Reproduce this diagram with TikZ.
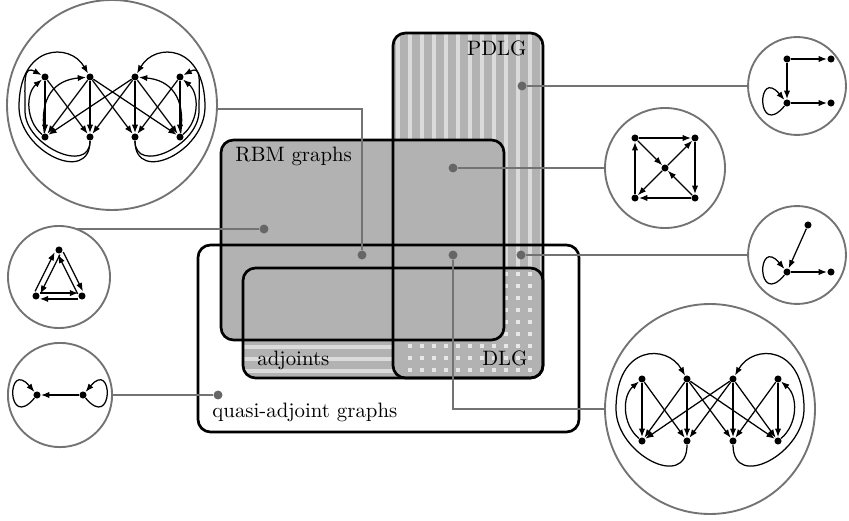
\documentclass[tikz,border=0pt]{standalone}
\usepackage{tikz}
\usetikzlibrary{arrows.meta, calc}

\begin{document}
\begin{tikzpicture}[x=0.48pt, y=0.48pt,
    region/.style={draw=black, line width=1.3pt, rounded corners=6pt},
    greyfill/.style={fill=gray!60},
    stripe/.style={draw=black!14, line width=1.7pt},
    speck/.style={fill=black!9},
    lbl/.style={inner sep=0pt},
    spot/.style={circle, fill=black!60, inner sep=0pt, minimum size=4.3pt},
    conn/.style={draw=black!55, line width=0.9pt},
    bubble/.style={circle, draw=black!55, line width=0.9pt, fill=white, inner sep=0pt, minimum size=#1},
    vtx/.style={circle, fill=black, inner sep=0pt, minimum size=3.4pt},
    arr/.style={-{Latex[length=4pt, width=3pt]}, line width=0.6pt},
    dbl/.style={shorten <=1.8pt, shorten >=1.8pt},
    selfloop/.style={out=230, in=130, distance=21pt}]

    \useasboundingbox (0,0) rectangle (849,-521);

    % region corners
    \coordinate (pdlgA) at (393,-33);  \coordinate (pdlgB) at (543,-378);
    \coordinate (adjA) at (243,-268);  \coordinate (adjB) at (543,-378);
    \coordinate (rbmA) at (221,-140);  \coordinate (rbmB) at (504,-340);
    \coordinate (qaA) at (198,-245);   \coordinate (qaB) at (579,-432);

    % PDLG - vertical stripes
    \begin{scope}
        \clip[rounded corners=6pt] (pdlgA) rectangle (pdlgB);
        \fill[greyfill] (pdlgA) rectangle (pdlgB);
        \foreach \x in {398,410,...,542} \draw[stripe] (\x,-30) -- (\x,-380);
    \end{scope}

    % adjoints - horizontal stripes
    \begin{scope}
        \clip[rounded corners=6pt] (adjA) rectangle (adjB);
        \fill[greyfill] (adjA) rectangle (adjB);
        \foreach \y in {275,287,...,371} \draw[stripe] (240,-\y) -- (546,-\y);
    \end{scope}

    % DLG - dots
    \begin{scope}
        \clip[rounded corners=6pt] (pdlgA) rectangle (pdlgB);
        \clip[rounded corners=6pt] (adjA) rectangle (adjB);
        \fill[greyfill] (adjA) rectangle (adjB);
        \foreach \x in {410,422,...,530}
            \foreach \y in {274,286,...,370}
                \fill[speck] (\x-1.7,-\y-1.7) rectangle ++(3.4,3.4);
    \end{scope}

    % RBM graphs - solid
    \fill[greyfill, rounded corners=6pt] (rbmA) rectangle (rbmB);

    % outlines
    \draw[region] (qaA) rectangle (qaB);
    \draw[region] (adjA) rectangle (adjB);
    \draw[region] (pdlgA) rectangle (pdlgB);
    \draw[region] (rbmA) rectangle (rbmB);

    % labels
    \node[lbl, anchor=base west] (rbmlbl) at (235,-162) {RBM graphs};
    \node[lbl, anchor=base east] (pdlglbl) at (527,-56) {PDLG};
    \node[lbl, anchor=base west] (adjlbl) at (257,-365) {adjoints};
    \node[lbl, anchor=base east] (dlglbl) at (528,-365) {DLG};
    \node[lbl, anchor=base west] (qalbl) at (212,-417) {quasi-adjoint graphs};

    % spots in the regions
    \node[spot] (d1) at (522,-86) {};
    \node[spot] (d2) at (453,-168) {};
    \node[spot] (d3) at (264,-229) {};
    \node[spot] (d4) at (362,-255) {};
    \node[spot] (d5) at (453,-255) {};
    \node[spot] (d6) at (521,-255) {};
    \node[spot] (d7) at (218,-395) {};

    % example bubbles
    \node[bubble=47pt] (c1) at (797,-86) {};
    \node[bubble=57.6pt] (c2) at (665,-168) {};
    \node[bubble=49pt] (c3) at (59,-277) {};
    \node[bubble=100.8pt] (c4) at (112,-105) {};
    \node[bubble=100.8pt] (c5) at (710,-409) {};
    \node[bubble=47pt] (c6) at (797,-255) {};
    \node[bubble=50pt] (c7) at (60,-395) {};

    % connectors
    \draw[conn] (d1) -- (c1);
    \draw[conn] (d2) -- (c2);
    \draw[conn] (d3) -- (d3 -| c3.70);
    \draw[conn] (d4) |- (c4.-2);
    \draw[conn] (d5) |- (c5.west);
    \draw[conn] (d6) -- (c6);
    \draw[conn] (d7) -- (c7);

    % c1: path with loop
    \begin{scope}[shift={(c1)}]
        \node[vtx] (c1a) at (-10,27) {};
        \node[vtx] (c1b) at (34,27) {};
        \node[vtx] (c1c) at (-10,-17) {};
        \node[vtx] (c1d) at (34,-17) {};
    \end{scope}
    \draw[arr] (c1a) -- (c1b);
    \draw[arr] (c1a) -- (c1c);
    \draw[arr] (c1c) -- (c1d);
    \draw[arr] (c1c) to[selfloop] (c1c);

    % c2: square with centre
    \begin{scope}[shift={(c2)}]
        \node[vtx] (c2tl) at (-30,30) {};
        \node[vtx] (c2tr) at (30,30) {};
        \node[vtx] (c2bl) at (-30,-30) {};
        \node[vtx] (c2br) at (30,-30) {};
        \node[vtx] (c2m) at (0,0) {};
    \end{scope}
    \draw[arr] (c2tl) -- (c2tr);
    \draw[arr] (c2tr) -- (c2br);
    \draw[arr] (c2br) -- (c2bl);
    \draw[arr] (c2bl) -- (c2tl);
    \draw[arr] (c2tl) -- (c2m);
    \draw[arr] (c2m) -- (c2tr);
    \draw[arr] (c2br) -- (c2m);
    \draw[arr] (c2m) -- (c2bl);

    % c3: triangle, both ways
    \begin{scope}[shift={(c3)}]
        \node[vtx] (c3t) at (0,27) {};
        \node[vtx] (c3l) at (-23,-19) {};
        \node[vtx] (c3r) at (23,-19) {};
    \end{scope}
    \foreach \a/\b in {c3l/c3t, c3t/c3l, c3t/c3r, c3r/c3t, c3r/c3l, c3l/c3r}
        \draw[arr, dbl] ($(\a)!1.4pt!90:(\b)$) -- ($(\b)!1.4pt!-90:(\a)$);

    % c4: big graph with extra arcs
    \begin{scope}[shift={(c4)}]
        \foreach \i/\x in {1/-67, 2/-22, 3/23, 4/68} {
            \node[vtx] (c4t\i) at (\x,28) {};
            \node[vtx] (c4b\i) at (\x,-32) {};
        }
        \coordinate (c4wl) at (-93,-2);  \coordinate (c4wr) at (93,-2);
        \coordinate (c4vl) at (-87,-6);  \coordinate (c4vr) at (87,-6);
    \end{scope}
    \foreach \s/\t in {1/1, 1/2, 2/1, 2/2, 2/3, 2/4, 3/1, 3/2, 3/3, 3/4, 4/3, 4/4}
        \draw[arr] (c4t\s) -- (c4b\t);
    \draw[arr] (c4b1) to[bend left=50] (c4t1);
    \draw[arr] (c4b4) to[bend right=50] (c4t4);
    \draw[arr] (c4b2) .. controls +(0,-48) and +(0,-45) .. (c4wl) .. controls +(0,63) and +(-20,35) .. (c4t2);
    \draw[arr] (c4b3) .. controls +(0,-48) and +(0,-45) .. (c4wr) .. controls +(0,63) and +(20,35) .. (c4t3);
    \draw[arr] (c4b2) .. controls +(0,-38) and +(0,-35) .. (c4vl) .. controls +(0,30) and +(-22,12) .. (c4t1);
    \draw[arr] (c4b3) .. controls +(0,-38) and +(0,-35) .. (c4vr) .. controls +(0,30) and +(22,12) .. (c4t4);
    \draw[arr] (c4b1) .. controls +(-6,40) and +(-35,-3) .. (c4t2);
    \draw[arr] (c4b4) .. controls +(6,40) and +(35,-3) .. (c4t3);

    % c5: big graph
    \begin{scope}[shift={(c5)}]
        \foreach \i/\x in {1/-68, 2/-23, 3/23, 4/68} {
            \node[vtx] (c5t\i) at (\x,30) {};
            \node[vtx] (c5b\i) at (\x,-32) {};
        }
        \coordinate (c5wl) at (-94,0);  \coordinate (c5wr) at (94,0);
    \end{scope}
    \foreach \s/\t in {1/1, 1/2, 2/1, 2/2, 2/3, 2/4, 3/1, 3/2, 3/3, 3/4, 4/3, 4/4}
        \draw[arr] (c5t\s) -- (c5b\t);
    \draw[arr] (c5b1) to[bend left=50] (c5t1);
    \draw[arr] (c5b4) to[bend right=50] (c5t4);
    \draw[arr] (c5b2) .. controls +(0,-50) and +(0,-45) .. (c5wl) .. controls +(0,65) and +(-20,35) .. (c5t2);
    \draw[arr] (c5b3) .. controls +(0,-50) and +(0,-45) .. (c5wr) .. controls +(0,65) and +(20,35) .. (c5t3);

    % c6: star with loop
    \begin{scope}[shift={(c6)}]
        \node[vtx] (c6a) at (11,30) {};
        \node[vtx] (c6c) at (-10,-17) {};
        \node[vtx] (c6d) at (34,-17) {};
    \end{scope}
    \draw[arr] (c6a) -- (c6c);
    \draw[arr] (c6c) -- (c6d);
    \draw[arr] (c6c) to[selfloop] (c6c);

    % c7: edge between two loops
    \begin{scope}[shift={(c7)}]
        \node[vtx] (c7l) at (-23,0) {};
        \node[vtx] (c7r) at (23,0) {};
    \end{scope}
    \draw[arr] (c7r) -- (c7l);
    \draw[arr] (c7l) to[selfloop] (c7l);
    \draw[arr] (c7r) to[out=-50, in=50, distance=21pt] (c7r);
\end{tikzpicture}
\end{document}
